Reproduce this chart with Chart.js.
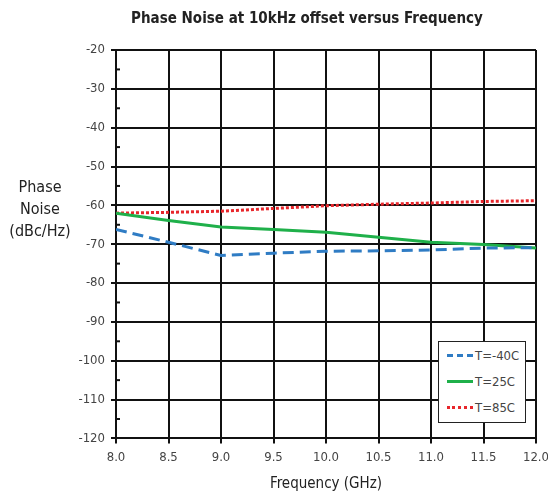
<!DOCTYPE html>
<html lang="en">
<head>
    <meta charset="UTF-8">
    <title>Phase Noise at 10kHz offset versus Frequency</title>
    <script src="https://cdn.jsdelivr.net/npm/chart.js"></script>
    <style>
        body { margin: 0; background: #fff; }
        .wrap { position: relative; width: 548px; height: 497px; }
        .ylabel {
            position: absolute; left: 0; top: 176px; width: 80px;
            text-align: center; font: 16px 'Liberation Sans Narrow', 'DejaVu Sans Condensed', sans-serif;
            color: #222; line-height: 22px;
        }
        .legend {
            position: absolute; left: 438px; top: 341px; width: 86px; height: 80px;
            border: 1.5px solid #222; background: #fff;
            font: 13px 'Liberation Sans Narrow', 'DejaVu Sans Condensed', sans-serif; color: #444;
        }
        .legend div { display: flex; align-items: center; height: 26px; padding-left: 8px; }
        .legend span.s { display: inline-block; width: 26px; margin-right: 2px; }
    </style>
</head>
<body>
    <div class="wrap">
        <canvas id="pnChart" width="548" height="497"></canvas>
        <div class="ylabel">Phase<br>Noise<br>(dBc/Hz)</div>
        <div class="legend" id="legend"></div>
    </div>

    <script>
        const freqs = [8.0, 8.5, 9.0, 9.5, 10.0, 10.5, 11.0, 11.5, 12.0];
        const tMinus40 = [-66.2, -69.5, -72.9, -72.3, -71.8, -71.7, -71.5, -71.0, -70.9];
        const t25 = [-62.0, -63.9, -65.6, -66.2, -66.9, -68.2, -69.5, -70.1, -71.0];
        const t85 = [-62.0, -61.8, -61.5, -60.8, -60.1, -59.7, -59.4, -59.0, -58.8];
        const seriesNames = ['T=-40C', 'T=25C', 'T=85C'];

        const font = "'Liberation Sans Narrow', 'DejaVu Sans Condensed', sans-serif";

        function pts(vals) {
            return freqs.map((f, i) => ({ x: f, y: vals[i] }));
        }

        // little ticks between the major y ticks, inside the plot
        const minorTicks = {
            id: 'minorTicks',
            afterDraw(chart) {
                const ctx = chart.ctx;
                const y = chart.scales.y;
                const left = chart.chartArea.left;
                ctx.save();
                ctx.strokeStyle = '#111';
                ctx.lineWidth = 2;
                for (let v = -115; v < -20; v += 10) {
                    const py = y.getPixelForValue(v);
                    ctx.beginPath();
                    ctx.moveTo(left, py);
                    ctx.lineTo(left + 4, py);
                    ctx.stroke();
                }
                ctx.restore();
            }
        };

        const datasets = [
            { label: seriesNames[0], data: pts(tMinus40), borderColor: '#2f7cc4', borderWidth: 3, borderDash: [11, 6] },
            { label: seriesNames[1], data: pts(t25), borderColor: '#1fb04a', borderWidth: 3 },
            { label: seriesNames[2], data: pts(t85), borderColor: '#e8262b', borderWidth: 3, borderDash: [3, 2] }
        ];

        new Chart(document.getElementById('pnChart').getContext('2d'), {
            type: 'line',
            data: { datasets: datasets },
            plugins: [minorTicks],
            options: {
                responsive: false,
                animation: false,
                layout: { padding: { left: 78, right: 12, top: 4, bottom: 4 } },
                elements: { point: { radius: 0 }, line: { tension: 0, fill: false } },
                plugins: {
                    legend: { display: false },
                    tooltip: { enabled: false },
                    title: {
                        display: true,
                        text: 'Phase Noise at 10kHz offset versus Frequency',
                        color: '#222',
                        font: { family: font, size: 15, weight: 'bold' },
                        padding: { top: 6, bottom: 22 }
                    }
                },
                scales: {
                    x: {
                        type: 'linear',
                        min: 8, max: 12,
                        ticks: { stepSize: 0.5, color: '#444', font: { family: font, size: 13 }, padding: 6,
                            callback: v => v.toFixed(1) },
                        grid: { color: '#111', lineWidth: 2, tickLength: 5 },
                        border: { color: '#111', width: 2 },
                        title: { display: true, text: 'Frequency (GHz)', color: '#222',
                            font: { family: font, size: 15 }, padding: { top: 4, bottom: 0 } },
                        afterFit: s => { s.paddingRight = 0; }
                    },
                    y: {
                        min: -120, max: -20,
                        ticks: { stepSize: 10, color: '#444', font: { family: font, size: 13 }, padding: 6 },
                        grid: { color: '#111', lineWidth: 2, tickLength: 5 },
                        border: { color: '#111', width: 2 },
                        afterFit: s => { s.width = 38; }
                    }
                }
            }
        });

        const styles = [
            'border-top: 3px dashed #2f7cc4',
            'border-top: 3px solid #1fb04a',
            'border-top: 3px dotted #e8262b'
        ];
        document.getElementById('legend').innerHTML = seriesNames.map((n, i) =>
            '<div><span class="s" style="' + styles[i] + '"></span>' + n + '</div>').join('');
    </script>
</body>
</html>
